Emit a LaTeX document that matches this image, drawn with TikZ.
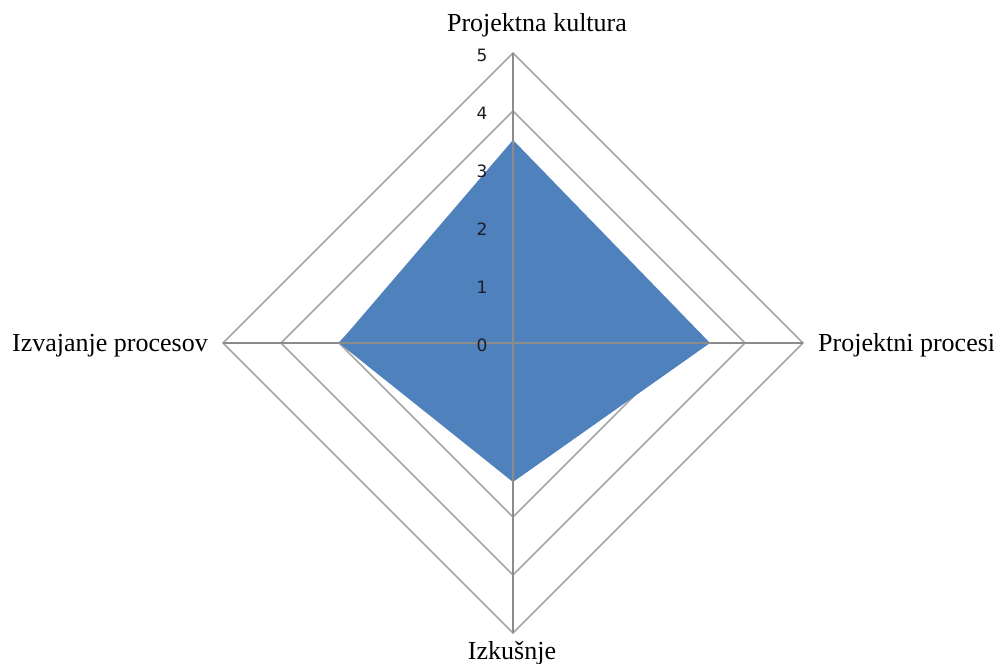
\documentclass[tikz,border=0pt]{standalone}
\usepackage{fontspec}
\setmainfont{Liberation Serif}
\newfontfamily\tickfont{DejaVu Sans}
\definecolor{fillblue}{HTML}{4F81BD}
\definecolor{gridgray}{HTML}{A6A6A6}
\definecolor{axisgray}{HTML}{8C8C8C}
\definecolor{ticktext}{HTML}{1C1C24}
\begin{document}
\begin{tikzpicture}[x=1pt,y=-1pt,
  ring/.style={draw=gridgray,line width=1.5pt},
  axisline/.style={draw=axisgray,line width=1.5pt},
  series/.style={fill=fillblue,draw=none},
  ticklabel/.style={font=\tickfont\fontsize{17}{20}\selectfont,text=ticktext,inner sep=0pt},
  catlabel/.style={font=\fontsize{26}{30}\selectfont,inner sep=0pt}]
\useasboundingbox (0,0) rectangle (994,664);
\coordinate (c) at (513,343);
% rings
\foreach \r in {1,...,5}{
  \draw[ring] (513,343-\r*58) -- (513+\r*58,343) -- (513,343+\r*58) -- (513-\r*58,343) -- cycle;
}
% data polygon
\coordinate (pk) at (513,140);
\coordinate (pp) at (710,343);
\coordinate (iz) at (513,482);
\coordinate (ip) at (339,343);
\fill[series] (pk) -- (pp) -- (iz) -- (ip) -- cycle;
% axes
\coordinate (atop) at (513,53);
\coordinate (abot) at (513,633);
\coordinate (aleft) at (223,343);
\coordinate (aright) at (803,343);
\draw[axisline] (atop) -- (abot);
\draw[axisline] (aleft) -- (aright);
% tick labels
\foreach \k in {0,...,5}{
  \node[ticklabel] (t\k) at (482,345-\k*58) {\k};
}
% category labels
\node[catlabel,anchor=base] (lpk) at (537,31) {Projektna kultura};
\node[catlabel,anchor=base west] (lpp) at (818,351) {Projektni procesi};
\node[catlabel,anchor=base east] (lip) at (208,351) {Izvajanje procesov};
\node[catlabel,anchor=base] (liz) at (512,659) {Izkušnje};
\end{tikzpicture}
\end{document}
